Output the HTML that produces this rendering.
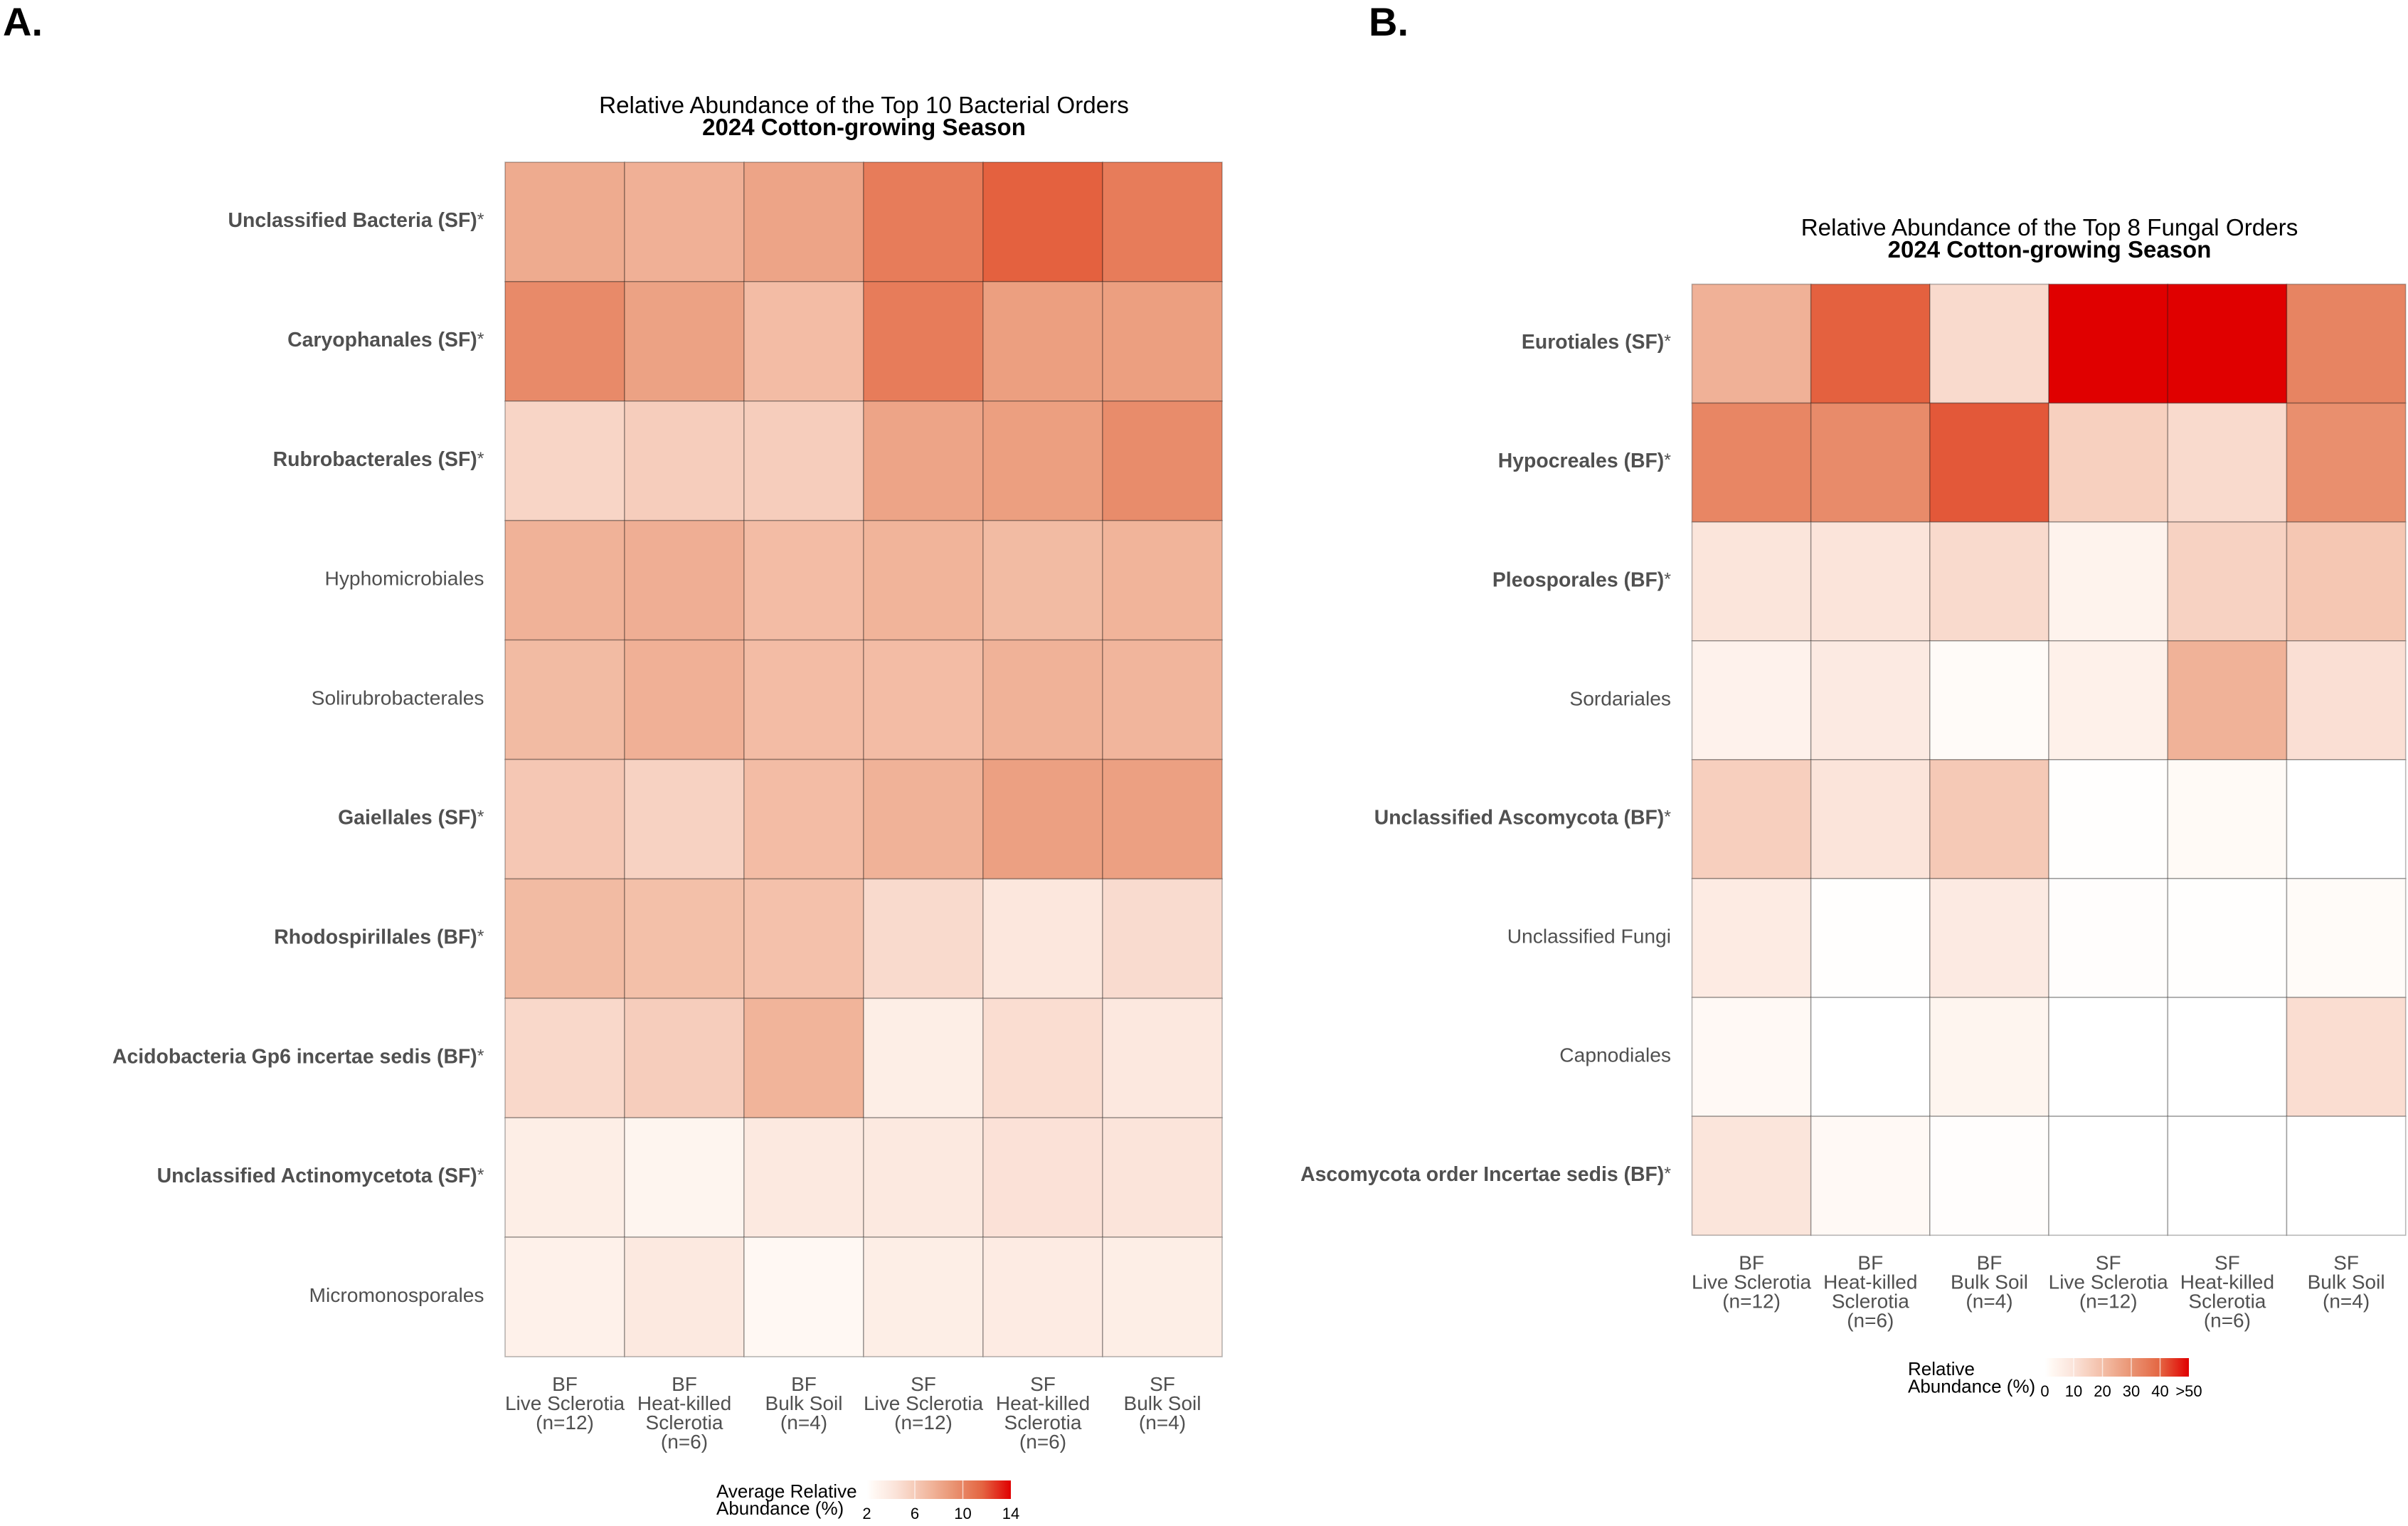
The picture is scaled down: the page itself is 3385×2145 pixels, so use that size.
<!DOCTYPE html>
<html lang="en">
<head>
<meta charset="utf-8">
<title>Relative Abundance Heatmaps</title>
<style>
html,body{margin:0;padding:0;background:#fff;}
svg{display:block;}
text{font-family:"Liberation Sans",Arial,sans-serif;}
.panel{font-weight:700;font-size:56px;fill:#000;}
.title{font-size:33.2px;fill:#000;text-anchor:middle;}
.subtitle{font-size:33px;font-weight:700;fill:#000;text-anchor:middle;}
.ylab{font-size:28.2px;fill:#505050;text-anchor:end;}
.ylab.sig{font-size:28.4px;font-weight:700;}
.star{font-weight:400;font-size:25px;}
.xlab{font-size:28px;fill:#505050;text-anchor:middle;}
.legtitle{font-size:26px;fill:#000;}
.legtick{font-size:22px;fill:#000;text-anchor:middle;}
</style>
</head>
<body>
<svg id="chart" xmlns="http://www.w3.org/2000/svg" width="3385" height="2145" viewBox="0 0 3385 2145">
  <rect x="0" y="0" width="3385" height="2145" fill="#ffffff"/>
  <defs id="gradients"></defs>
  <text class="panel" x="4" y="50">A.</text>
  <text class="panel" x="1924" y="50">B.</text>
  <text class="title" x="1214.5" y="159">Relative Abundance of the Top 10 Bacterial Orders</text>
  <text class="subtitle" x="1214.5" y="190">2024 Cotton-growing Season</text>
  <text class="title" x="2881" y="331">Relative Abundance of the Top 8 Fungal Orders</text>
  <text class="subtitle" x="2881" y="362">2024 Cotton-growing Season</text>
  <g id="panel-a"></g>
  <g id="panel-b"></g>
  <text class="legtitle" x="1007" y="2105">Average Relative</text>
  <text class="legtitle" x="1007" y="2129">Abundance (%)</text>
  <text class="legtitle" x="2682" y="1933">Relative</text>
  <text class="legtitle" x="2682" y="1957.5">Abundance (%)</text>
  <g id="legend-a"></g>
  <g id="legend-b"></g>
</svg>
<script>
var sampleGroups = [
  ["BF", "Live Sclerotia", "(n=12)"],
  ["BF", "Heat-killed", "Sclerotia", "(n=6)"],
  ["BF", "Bulk Soil", "(n=4)"],
  ["SF", "Live Sclerotia", "(n=12)"],
  ["SF", "Heat-killed", "Sclerotia", "(n=6)"],
  ["SF", "Bulk Soil", "(n=4)"]
];
var bacterialOrders = [
  "Unclassified Bacteria (SF)*",
  "Caryophanales (SF)*",
  "Rubrobacterales (SF)*",
  "Hyphomicrobiales",
  "Solirubrobacterales",
  "Gaiellales (SF)*",
  "Rhodospirillales (BF)*",
  "Acidobacteria Gp6 incertae sedis (BF)*",
  "Unclassified Actinomycetota (SF)*",
  "Micromonosporales"
];
var bacterialValues = [
  [7.9, 7.6, 8.3, 10.4, 11.7, 10.4],
  [9.7, 8.4, 6.9, 10.4, 8.6, 8.6],
  [5.3, 5.8, 5.8, 8.3, 8.6, 9.6],
  [7.5, 7.7, 6.9, 7.4, 7.0, 7.4],
  [7.0, 7.6, 6.9, 6.9, 7.5, 7.3],
  [6.2, 5.5, 6.9, 7.5, 8.5, 8.5],
  [7.0, 6.7, 6.6, 5.0, 4.1, 4.9],
  [5.1, 5.8, 7.4, 3.5, 4.8, 4.0],
  [3.5, 2.9, 3.9, 3.9, 4.5, 4.3],
  [3.2, 3.9, 2.6, 3.5, 3.7, 3.5]
];
var fungalOrders = [
  "Eurotiales (SF)*",
  "Hypocreales (BF)*",
  "Pleosporales (BF)*",
  "Sordariales",
  "Unclassified Ascomycota (BF)*",
  "Unclassified Fungi",
  "Capnodiales",
  "Ascomycota order Incertae sedis (BF)*"
];
var fungalValues = [
  [23.0, 40.4, 12.5, 50, 50, 33.4],
  [33.0, 31.9, 41.3, 15.2, 12.5, 31.0],
  [9.3, 9.6, 12.5, 4.3, 14.6, 17.6],
  [4.6, 7.5, 1.4, 5.0, 22.9, 11.1],
  [15.4, 9.6, 17.0, 0.4, 1.8, 0.1],
  [7.1, 0.4, 7.5, 0.7, 0.4, 1.4],
  [2.1, 0, 3.6, 0, 0, 11.6],
  [9.3, 2.1, 0.7, 0, 0, 0]
];
var bacterialLegendTicks = [2, 6, 10, 14];
var bacterialLegendLabels = ["2", "6", "10", "14"];
var fungalLegendTicks = [0, 10, 20, 30, 40, 50];
var fungalLegendLabels = ["0", "10", "20", "30", "40", ">50"];

var SVGNS = "http://www.w3.org/2000/svg";
var rampPositions = [0, 0.05, 0.2, 0.4, 0.6, 0.8, 1];
var rampColors = [[255,255,255],[255,248,243],[251,227,217],[243,190,167],[233,148,115],[228,101,66],[224,0,0]];

function rampColor(t) {
  t = Math.max(0, Math.min(1, t));
  var i = 0;
  while (i < rampPositions.length - 2 && t > rampPositions[i + 1]) i++;
  var f = (t - rampPositions[i]) / (rampPositions[i + 1] - rampPositions[i]);
  var a = rampColors[i], b = rampColors[i + 1];
  return "rgb(" + Math.round(a[0] + (b[0] - a[0]) * f) + "," + Math.round(a[1] + (b[1] - a[1]) * f) + "," + Math.round(a[2] + (b[2] - a[2]) * f) + ")";
}
function node(parent, tag) {
  var el = document.createElementNS(SVGNS, tag);
  parent.appendChild(el);
  return el;
}
function slug(s) {
  return s.toLowerCase().replace(/[^a-z0-9]+/g, "-").replace(/^-|-$/g, "");
}

function drawHeatmap(group, prefix, orders, values, left, top, cellW, cellH, min, max) {
  var xAxis = function (i) { return left + i * cellW; };
  var yAxis = function (j) { return top + j * cellH; };
  var fill = function (v) { return rampColor((v - min) / (max - min)); };
  values.forEach(function (row, j) {
    row.forEach(function (v, i) {
      var r = node(group, "rect");
      
      
      r.setAttribute("x", xAxis(i));
      r.setAttribute("y", yAxis(j));
      r.setAttribute("width", cellW);
      r.setAttribute("height", cellH);
      r.setAttribute("fill", fill(v));
      r.setAttribute("stroke", "rgba(0,0,0,0.28)");
      r.setAttribute("stroke-width", "1.6");
    });
  });
  orders.forEach(function (name, j) {
    var t = node(group, "text");
    
    
    var sig = name.charAt(name.length - 1) === "*";
    t.setAttribute("class", sig ? "ylab sig" : "ylab");
    t.setAttribute("x", left - 29.5);
    t.setAttribute("y", yAxis(j) + cellH / 2 + 7);
    if (sig) {
      t.textContent = name.slice(0, -1);
      var s = node(t, "tspan");
      s.setAttribute("class", "star");
      s.setAttribute("dy", "-2");
      s.textContent = "*";
    } else {
      t.textContent = name;
    }
  });
  sampleGroups.forEach(function (lines, i) {
    lines.forEach(function (line, k) {
      var t = node(group, "text");
      
      
      t.setAttribute("class", "xlab");
      t.setAttribute("x", xAxis(i) + cellW / 2);
      t.setAttribute("y", top + values.length * cellH + 48 + k * 27);
      t.textContent = line;
    });
  });
}

function drawLegend(group, id, prefix, ticks, labels, x0, x1, y, h, labelY) {
  var min = ticks[0], max = ticks[ticks.length - 1];
  var xAxis = function (v) { return x0 + (v - min) / (max - min) * (x1 - x0); };
  var defs = document.getElementById("gradients");
  var grad = node(defs, "linearGradient");
  grad.setAttribute("id", id);
  for (var i = 0; i <= 20; i++) {
    var st = node(grad, "stop");
    st.setAttribute("offset", (i * 5) + "%");
    st.setAttribute("stop-color", rampColor(i / 20));
  }
  var bar = node(group, "rect");
  
  
  bar.setAttribute("x", x0);
  bar.setAttribute("y", y);
  bar.setAttribute("width", x1 - x0);
  bar.setAttribute("height", h);
  bar.setAttribute("fill", "url(#" + id + ")");
  ticks.forEach(function (v, i) {
    if (i > 0 && i < ticks.length - 1) {
      var l = node(group, "line");
      
      
      l.setAttribute("x1", xAxis(v));
      l.setAttribute("x2", xAxis(v));
      l.setAttribute("y1", y);
      l.setAttribute("y2", y + h);
      l.setAttribute("stroke", "rgba(255,255,255,0.65)");
      l.setAttribute("stroke-width", "1.5");
    }
    var t = node(group, "text");
    
    
    t.setAttribute("class", "legtick");
    t.setAttribute("x", xAxis(v));
    t.setAttribute("y", labelY);
    t.textContent = labels[i];
  });
}

drawHeatmap(document.getElementById("panel-a"), "bacterial", bacterialOrders, bacterialValues, 710, 228, 168, 167.9, 2, 14);
drawHeatmap(document.getElementById("panel-b"), "fungal", fungalOrders, fungalValues, 2378.5, 399.5, 167.2, 167.1, 0, 50);
drawLegend(document.getElementById("legend-a"), "grad-a", "bacterial", bacterialLegendTicks, bacterialLegendLabels, 1218.5, 1421, 2081, 26, 2135);
drawLegend(document.getElementById("legend-b"), "grad-b", "fungal", fungalLegendTicks, fungalLegendLabels, 2874.5, 3077, 1909, 26, 1963);
</script>
</body>
</html>
